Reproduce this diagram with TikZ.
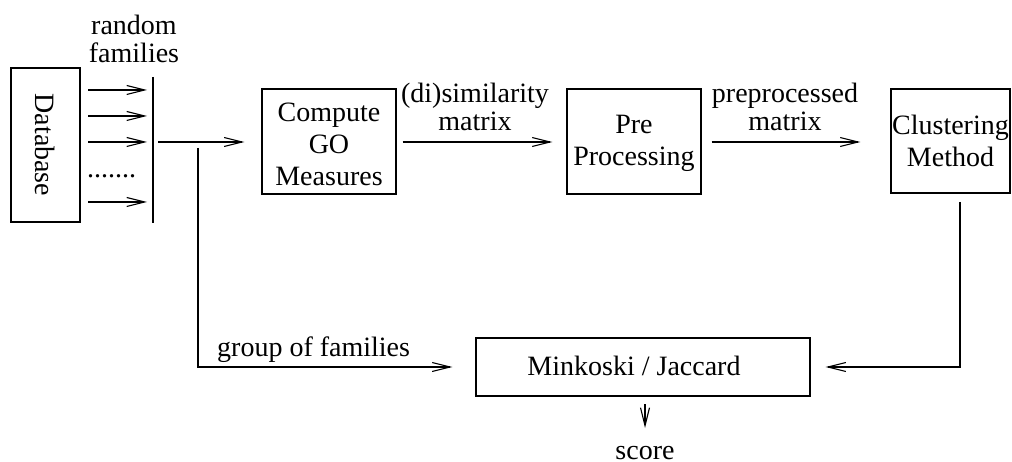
\documentclass[tikz,border=0pt]{standalone}
\usepackage{fontspec}
\setmainfont{Liberation Serif}
\usetikzlibrary{arrows.meta}
\begin{document}
\begin{tikzpicture}[x=1pt,y=-1pt,
  every node/.style={font=\fontsize{28}{32}\selectfont, inner sep=0pt},
  box/.style={draw, line width=1.1pt},
  flow/.style={line width=1.1pt, -{Straight Barb[length=18pt,width=9pt,line width=1.1pt]}},
  plain/.style={line width=1.1pt},
  lbl/.style={align=center, font=\fontsize{28}{28}\selectfont}]
\useasboundingbox (0,0) rectangle (1012,462);

% source database, text running top to bottom
\node[box, rotate=-90, minimum width=154pt, minimum height=69pt] (db) at (45.5,145) {Database};

% collector bar that gathers the sampled families
\coordinate (bartop) at (153,77);
\coordinate (barbot) at (153,223);
\draw[plain] (bartop) -- (barbot);
\node[lbl, anchor=base] (rf) at (134,63) {random\\families};

% family arrows leaving the database
\foreach \i/\yy in {1/90,2/116,3/142,5/202}{
  \coordinate (s\i) at (88,\yy);
  \draw[flow, shorten >=6pt] (s\i) -- (s\i -| bartop);
}
\node[anchor=base west] (dots) at (87,178) {.......};

% processing pipeline
\node[box, minimum width=134pt, minimum height=105pt] (cgo) at (329,141.5) {};
\node[align=center] (cgot) at ([yshift=-3pt]cgo.center) {Compute\\GO\\Measures};
\node[box, minimum width=134pt, minimum height=105pt] (pre) at (634,141.5) {};
\node[align=center] (pret) at ([yshift=-2pt]pre.center) {Pre\\Processing};
\node[box, minimum width=119pt, minimum height=104pt, align=center] (clu) at (950.5,141) {Clustering\\Method};
\node[box, minimum width=334pt, minimum height=58pt] (mink) at (643,367) {};
\node[anchor=base] (minkt) at (634,375) {Minkoski / Jaccard};

\coordinate (out) at (158,142);
\draw[flow, shorten >=17pt] (out) -- (out -| cgo.west);

\draw[flow, shorten <=6pt, shorten >=14pt] (cgo.east |- out) -- (pre.west |- out);
\node[lbl, anchor=base] (dsm) at (475,131) {(di)similarity\\matrix};

\draw[flow, shorten <=10pt, shorten >=30pt] (pre.east |- out) -- (clu.west |- out);
\node[lbl, anchor=base] (ppm) at (785,131) {preprocessed\\matrix};

% evaluation branch
\coordinate (split) at (198,148);
\draw[flow, shorten >=23pt] (split) |- (mink.west);
\node[anchor=base west] (gof) at (217,356) {group of families};

\coordinate (cdown) at (960,202);
\draw[flow, shorten >=15pt] (cdown) |- (mink.east);

\coordinate (sc) at (645,404);
\coordinate (scend) at (645,428);
\node[anchor=base] (score) at (645,459) {score};
\draw[flow] (sc) -- (scend);
\end{tikzpicture}
\end{document}
